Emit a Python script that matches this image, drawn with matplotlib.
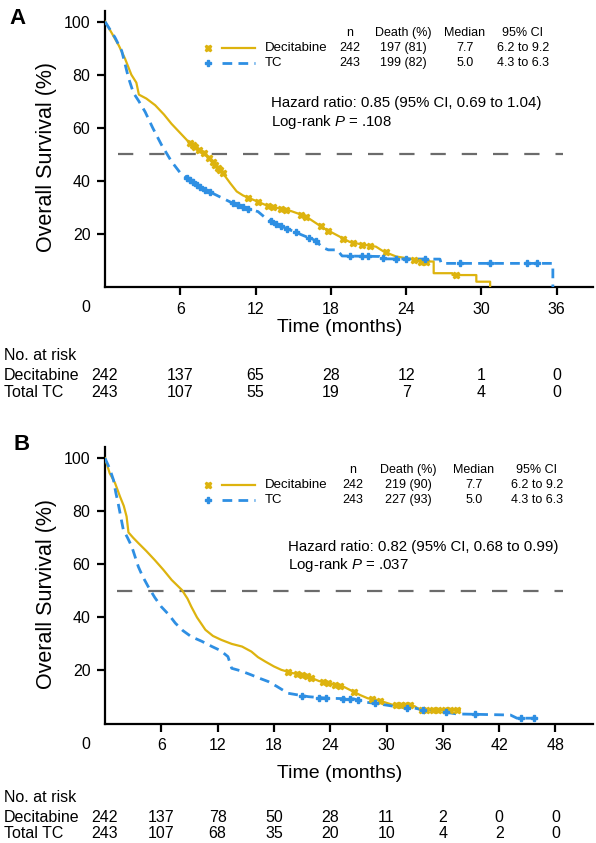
import numpy as np
import matplotlib
matplotlib.use("Agg")
import matplotlib.pyplot as plt
from matplotlib.lines import Line2D
from matplotlib import transforms

plt.rcParams['lines.scale_dashes'] = False
plt.rcParams['mathtext.fontset'] = 'custom'
plt.rcParams['mathtext.rm'] = 'Liberation Sans'
plt.rcParams['mathtext.it'] = 'Liberation Sans:italic'

W, H = 596, 843
YELLOW = '#DDB30E'
BLUE = '#2E8FE3'
SANS = ['Liberation Sans', 'DejaVu Sans']

# ---------------- panel A data ----------------
a_dec_t = [0, 0.5, 1.1, 1.6, 2.1, 2.5, 2.7, 3.3, 4.0, 4.7, 5.3, 6.0, 6.6, 7.3, 8.0, 8.6, 9.3,
           10.0, 10.5, 11.0, 12.0, 13.0, 14.6, 15.5, 16.2, 17.0, 17.5, 18.5, 19.5, 20.5, 21.6,
           22.2, 23.2, 24.5, 25.1, 26.2, 26.2, 27.7, 27.7, 29.6, 29.6, 30.7, 30.7]
a_dec_s = [100, 96, 91, 86, 80, 77, 72.5, 71, 68.5, 65, 61.5, 58, 55, 52.5, 50, 47, 43.5,
           39, 36, 34.5, 32.5, 30.5, 29, 27.5, 26, 23.5, 22, 19.5, 17, 16, 15.2,
           13.4, 11.5, 10.5, 9.6, 9.6, 5.2, 5.2, 4.5, 4.5, 2.0, 2.0, 0]
a_dec_cens = [6.8, 7.0, 7.2, 7.5, 7.9, 8.3, 8.6, 8.8, 9.0, 9.2, 9.4, 11.4, 12.2, 13.0, 13.4,
              14.0, 14.4, 15.6, 16.0, 17.2, 17.8, 19.0, 19.8, 20.5, 21.1, 22.4, 24.6, 25.2,
              25.6, 28.0]

a_tc_t = [0, 0.4, 0.8, 1.33, 1.6, 1.86, 2.26, 2.7, 3.2, 3.8, 4.5, 5.3, 6.0, 6.9, 7.8, 8.8,
          10.0, 10.9, 12.2, 12.8, 13.5, 14.5, 15.7, 16.8, 17.3, 17.8, 18.5, 18.9, 21.9, 22.3,
          26.7, 26.8, 35.7, 35.7]
a_tc_s = [100, 97, 94, 89, 84, 79, 73.2, 70, 66, 60, 53.6, 47.3, 43, 39.8, 37, 34.8,
          32, 30.3, 28.4, 26, 24.1, 22, 19.6, 17.5, 15, 14, 14, 11.7, 11.5, 10.6,
          10.5, 8.9, 8.9, 0]
a_tc_cens = [6.5, 6.8, 7.0, 7.3, 7.6, 8.0, 8.4, 10.2, 10.6, 11.0, 11.4, 13.2, 13.6, 14.0,
             14.5, 15.2, 16.3, 16.8, 19.5, 20.5, 21.0, 22.2, 23.2, 24.0, 25.5, 28.3, 30.7,
             33.6, 34.4]

a_ticks = [0, 6, 12, 18, 24, 30, 36]
a_risk_dec = [242, 137, 65, 28, 12, 1, 0]
a_risk_tc = [243, 107, 55, 19, 7, 4, 0]
a_table = [['242', '197 (81)', '7.7', '6.2 to 9.2'],
           ['243', '199 (82)', '5.0', '4.3 to 6.3']]
a_hr = 'Hazard ratio: 0.85 (95% CI, 0.69 to 1.04)'
a_p = '.108'

# ---------------- panel B data ----------------
b_dec_t = [0, 0.5, 1.07, 1.6, 2.0, 2.3, 2.5, 3.0, 3.55, 4.4, 5.3, 6.2, 7.1, 8.2, 8.8, 9.2,
           9.8, 10.7, 11.5, 12.4, 13.5, 14.6, 15.6, 16.3, 17.1, 18.0, 18.8, 20.0, 21.7, 22.8,
           23.8, 25.4, 26.3, 27.2, 28.0, 29.0, 30.7, 32.2, 33.0, 33.6, 37.8]
b_dec_s = [100, 94.3, 90.6, 85.5, 82, 78, 72, 70, 68, 65, 61.6, 58, 54.1, 50.3, 47, 44,
           40, 35.3, 33, 31.5, 30, 29, 27.1, 25, 23.3, 21.5, 20.2, 19, 17.6, 16,
           15.2, 13.9, 12.3, 10.7, 9.5, 8.9, 7.0, 7.0, 6.5, 5.1, 5.1]
b_dec_cens = [19.5, 20.5, 21.0, 21.5, 22.0, 23.2, 23.8, 24.5, 25.0, 26.5, 28.5, 29.3, 31.0,
              31.5, 32.0, 32.5, 33.8, 34.2, 35.0, 35.5, 36.2, 36.8, 37.5]

b_tc_t = [0, 0.5, 0.9, 1.15, 1.4, 1.95, 2.4, 2.85, 3.55, 4.0, 4.6, 5.3, 6.0, 6.8, 7.5, 8.3,
          9.2, 10.3, 11.4, 12.3, 13.1, 13.5, 14.5, 15.6, 16.5, 17.4, 18.3, 19.5, 20.5, 21.7,
          23.8, 26.5, 27.5, 29.5, 31.1, 33.0, 33.9, 36.0, 37.5, 43.2, 43.9, 45.7]
b_tc_s = [100, 96, 91.8, 87, 83, 73, 70, 66.7, 59.1, 55.5, 51.6, 47.5, 44, 41, 37.8, 35,
          32.7, 31, 29, 27.5, 25.2, 20.8, 19.8, 18.3, 17, 15.8, 14, 11.4, 10.8, 10.1,
          9.5, 9.3, 8.2, 7.2, 6.3, 5.8, 5.1, 4.4, 3.6, 3.2, 2.0, 2.0]
b_tc_cens = [21.0, 22.8, 23.5, 25.4, 26.1, 27.0, 28.8, 32.2, 33.9, 36.3, 39.4, 44.3, 45.7]

b_ticks = [0, 6, 12, 18, 24, 30, 36, 42, 48]
b_risk_dec = [242, 137, 78, 50, 28, 11, 2, 0, 0]
b_risk_tc = [243, 107, 68, 35, 20, 10, 4, 2, 0]
b_table = [['242', '219 (90)', '7.7', '6.2 to 9.2'],
           ['243', '227 (93)', '5.0', '4.3 to 6.3']]
b_hr = 'Hazard ratio: 0.82 (95% CI, 0.68 to 0.99)'
b_p = '.037'

table_head = ['n', 'Death (%)', 'Median', '95% CI']
groups = ['Decitabine', 'TC']
risk_groups = ['Decitabine', 'Total TC']


def px(x, y):
    return x / W, 1 - y / H


fig = plt.figure(figsize=(W / 100, H / 100), dpi=100)


def panel(bottom, letter, xmax, mid_line, ticks, dec, tc, risk, table, hr, p,
          col_x, leg_y, hr_xy, risk_y, xlabel_y, letter_xy):
    ax = fig.add_axes([105 / W, 1 - bottom / H, 488 / W, 276 / H])
    ax.set_xlim(0, xmax)
    ax.set_ylim(0, 104)
    for s in ['top', 'right']:
        ax.spines[s].set_visible(False)
    for s in ['left', 'bottom']:
        ax.spines[s].set_linewidth(1.6)

    # curves
    t, s, c = dec
    ax.plot(t, s, color=YELLOW, lw=1.6, zorder=3)
    ax.plot(c, np.interp(c, t, s), ls='none', marker='X', ms=4.5, color=YELLOW,
            mec=YELLOW, zorder=4)
    t, s, c = tc
    ax.plot(t, s, color=BLUE, lw=2.0, dashes=(7, 4.5), zorder=3)
    ax.plot(c, np.interp(c, t, s), ls='none', marker='P', ms=4.5, color=BLUE,
            mec=BLUE, zorder=4)

    # median line
    ax.plot(mid_line, [50, 50], color='#6b6b6b', lw=1.6, dashes=(11, 11.5), zorder=2)

    ax.set_yticks([20, 40, 60, 80, 100])
    ax.set_xticks(ticks)
    ax.set_xticklabels([''] + [str(v) for v in ticks[1:]])
    ax.tick_params(axis='both', width=1.6, length=5.5, labelsize=11.5)
    ax.tick_params(axis='y', pad=5)
    ax.tick_params(axis='x', pad=5)
    ax.xaxis.get_major_ticks()[0].tick1line.set_visible(False)
    for lab in ax.get_xticklabels() + ax.get_yticklabels():
        lab.set_family(SANS)
    ax.annotate('0', xy=(0, 0), xycoords='data', xytext=(-19, -21),
                textcoords='offset pixels', ha='center', va='center',
                fontsize=11.5, family=SANS)

    # axis titles
    ylab_y = 1 - (bottom - 0.47 * 276) / H
    fig.text(47 / W, ylab_y, 'Overall Survival (%)', rotation=90, ha='center',
             va='center', family=SANS, fontsize=15.5)
    fig.text(*px(340, xlabel_y), 'Time (months)', ha='center', va='center',
             family=SANS, fontsize=14)

    fig.text(*px(*letter_xy), letter, ha='center', va='center', family=SANS,
             fontsize=16, fontweight='bold')

    # legend + table
    for i, g in enumerate(groups):
        y = leg_y[i + 1]
        color = YELLOW if i == 0 else BLUE
        fig.add_artist(Line2D([208 / W], [1 - y / H], marker='X' if i == 0 else 'P',
                              ms=4.5, color=color, ls='none'))
        ln = Line2D([222 / W, 255 / W], [1 - y / H, 1 - y / H], color=color,
                    lw=1.6 if i == 0 else 2.0)
        if i == 1:
            ln.set_dashes((7, 4.5))
        fig.add_artist(ln)
        fig.text(*px(265, y), g, ha='left', va='center', family=SANS, fontsize=9.5)
        for j, v in enumerate(table[i]):
            fig.text(*px(col_x[j], y), v, ha='center', va='center', family=SANS,
                     fontsize=9)
    for j, hd in enumerate(table_head):
        fig.text(*px(col_x[j], leg_y[0]), hd, ha='center', va='center', family=SANS,
                 fontsize=9)

    fig.text(*px(*hr_xy[0]), hr, ha='left', va='center', family=SANS, fontsize=10.8)
    fig.text(*px(*hr_xy[1]), r'Log-rank $\mathit{P}$ = ' + p, ha='left', va='center',
             family=SANS, fontsize=10.8)

    # numbers at risk
    tr = transforms.blended_transform_factory(ax.transData, fig.transFigure)
    fig.text(*px(4, risk_y[0]), 'No. at risk', ha='left', va='center', family=SANS,
             fontsize=11.5)
    for k, (name, row) in enumerate(zip(risk_groups, risk)):
        y = 1 - risk_y[k + 1] / H
        fig.text(4 / W, y, name, ha='left', va='center', family=SANS, fontsize=11.5)
        for tt, n in zip(ticks, row):
            ax.text(tt, y, str(n), transform=tr, ha='center', va='center', family=SANS,
                    fontsize=11.5, clip_on=False)
    return ax


panel(287, 'A', 38.9, [1.0, 36.5], a_ticks,
      (a_dec_t, a_dec_s, a_dec_cens), (a_tc_t, a_tc_s, a_tc_cens),
      (a_risk_dec, a_risk_tc), a_table, a_hr, a_p,
      col_x=[350, 403, 465, 523], leg_y=[33, 48, 63],
      hr_xy=[(271, 103), (271, 122)], risk_y=[356, 375, 393], xlabel_y=327,
      letter_xy=(18, 19))

panel(723.5, 'B', 52.0, [1.3, 48.8], b_ticks,
      (b_dec_t, b_dec_s, b_dec_cens), (b_tc_t, b_tc_s, b_tc_cens),
      (b_risk_dec, b_risk_tc), b_table, b_hr, b_p,
      col_x=[353, 408, 474, 537], leg_y=[470, 485, 500],
      hr_xy=[(288, 547), (288, 565)], risk_y=[798, 817, 833], xlabel_y=773,
      letter_xy=(22, 444))

fig.savefig('out.png', dpi=100)
